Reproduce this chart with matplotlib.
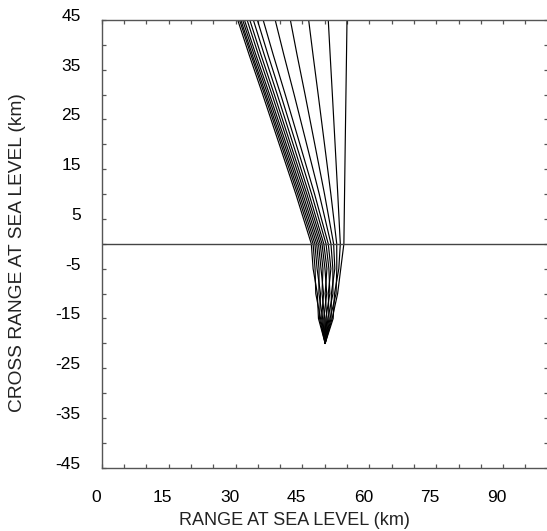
import numpy as np
import matplotlib
matplotlib.use("Agg")
import matplotlib.pyplot as plt
import matplotlib.transforms as mtransforms

plt.rcParams['font.family'] = ['Liberation Sans', 'DejaVu Sans']

# cross range levels (km) where the ray positions were read
y_levels = [-20, -15, -10, -5, 0, 10, 20, 30, 38, 45]

# range (km) of each ray at the levels above, left to right at the top edge
rays = [
    [50.1, 48.60, 48.35, 47.40, 47.0, 43.53, 39.82, 36.11, 33.06, 30.5],
    [50.1, 49.07, 48.00, 47.84, 47.4, 43.93, 40.22, 36.51, 33.46, 30.9],
    [50.1, 48.84, 49.05, 48.29, 47.8, 44.31, 40.58, 36.84, 33.77, 31.2],
    [50.1, 49.54, 48.70, 48.73, 48.2, 44.71, 40.98, 37.24, 34.17, 31.6],
    [50.1, 49.31, 49.75, 49.17, 48.6, 45.11, 41.38, 37.64, 34.57, 32.0],
    [50.1, 50.01, 49.40, 49.61, 49.0, 45.56, 41.87, 38.18, 35.14, 32.6],
    [50.1, 49.78, 50.45, 50.06, 49.4, 46.00, 42.35, 38.71, 35.71, 33.2],
    [50.1, 50.49, 50.10, 50.50, 49.8, 46.48, 42.93, 39.37, 36.45, 34.0],
    [50.1, 50.25, 51.15, 50.94, 50.3, 47.07, 43.60, 40.14, 37.29, 34.9],
    [50.1, 50.96, 50.80, 51.39, 50.8, 47.73, 44.45, 41.16, 38.46, 36.2],
    [50.1, 50.72, 51.85, 51.83, 51.4, 48.78, 45.96, 43.15, 40.84, 38.9],
    [50.1, 51.43, 51.50, 52.27, 52.0, 49.96, 47.78, 45.60, 43.80, 42.3],
    [50.1, 51.20, 52.55, 52.71, 52.7, 51.38, 49.96, 48.54, 47.38, 46.4],
    [50.1, 51.90, 52.20, 53.16, 53.5, 52.93, 52.33, 51.72, 51.22, 50.8],
    [50.1, 51.67, 52.90, 53.60, 54.3, 54.45, 54.60, 54.76, 54.89, 55.0],
]

x_ticks = [0, 15, 30, 45, 60, 75, 90]
y_ticks = [-45, -35, -25, -15, -5, 5, 15, 25, 35, 45]

fig = plt.figure(figsize=(5.47, 5.31), dpi=100)
W, H = 547, 531
ax = fig.add_axes([101.7 / W, 63.3 / H, 446 / W, 447.7 / H])

for r in rays:
    ax.plot(r, y_levels, color='black', lw=0.85)
ax.axhline(0, color='#444444', lw=1.0)

ax.set_xlim(0, 100)
ax.set_ylim(-45, 45)
ax.set_xticks(x_ticks)
ax.set_xticklabels([str(v) for v in x_ticks])
ax.set_yticks(y_ticks)
ax.set_yticklabels([str(v) for v in y_ticks])
ax.set_xticks(np.arange(0, 101, 5), minor=True)
ax.set_yticks(np.arange(-45, 46, 5), minor=True)

for s in ['left', 'bottom', 'top']:
    ax.spines[s].set_color('#555555')
    ax.spines[s].set_linewidth(1.0)
ax.spines['right'].set_visible(False)

ax.tick_params(which='both', direction='in', length=3, width=0.9, color='#555555',
               top=True, right=True, labelsize=12.5)
ax.tick_params(axis='x', which='major', pad=16)
ax.tick_params(axis='y', which='major', pad=15)

dx = mtransforms.ScaledTranslation(-6 / 100, 0, fig.dpi_scale_trans)
for lab in ax.get_xticklabels():
    lab.set_transform(lab.get_transform() + dx)
dy = mtransforms.ScaledTranslation(0, 5 / 100, fig.dpi_scale_trans)
for lab in ax.get_yticklabels():
    lab.set_transform(lab.get_transform() + dy)

ax.set_xlabel('RANGE AT SEA LEVEL (km)', fontsize=13, color='#222222')
ax.set_ylabel('CROSS RANGE AT SEA LEVEL (km)', fontsize=13.8, color='#222222')
ax.xaxis.set_label_coords(0.432, -0.117)
ax.xaxis.label.set_va('center')
ax.yaxis.set_label_coords(-0.188, 0.48)
ax.yaxis.label.set_va('center')

fig.savefig('out.png', dpi=100)
